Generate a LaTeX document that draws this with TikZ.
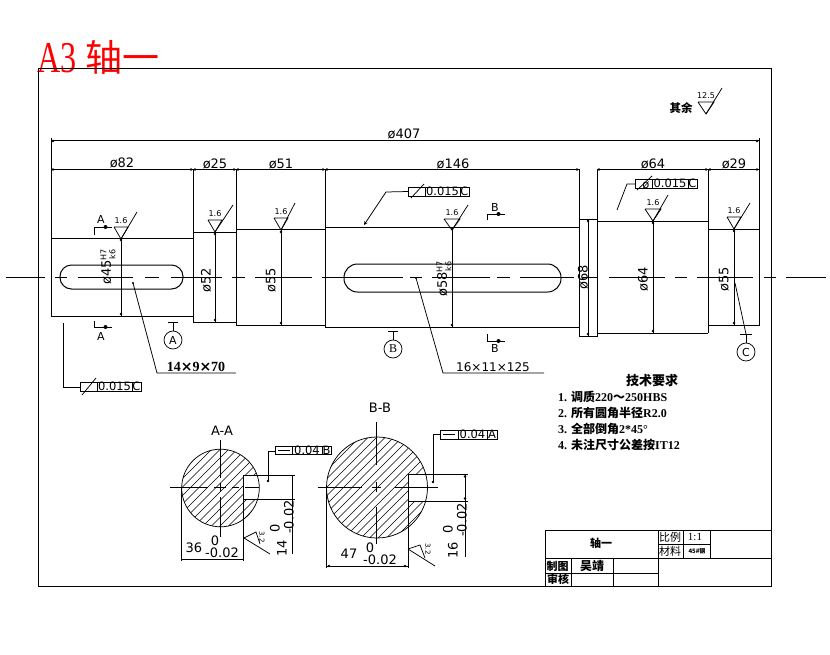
\documentclass[tikz,border=0pt]{standalone}
\usepackage{fontspec}
\setmainfont{Liberation Serif}
\newfontfamily\cjk{Noto Sans CJK SC}
\newfontfamily\djv{DejaVu Sans}
\newcommand{\zh}[1]{{\cjk #1}}
\newcommand{\fsz}[1]{\fontsize{#1}{#1}\selectfont}
\newcommand{\fitfrac}{\raisebox{-0.35em}{\shortstack{\fsz{8}H7\\\fsz{8}k6}}}
\tikzset{
  line/.style={draw=black,line width=1pt},
  thin line/.style={draw=black,line width=0.75pt},
  dim/.style={inner sep=0pt,font=\djv\fsz{13}},
  vdimtext/.style={inner sep=0pt,font=\djv\fsz{13},rotate=90},
  small/.style={inner sep=0pt,font=\djv\fsz{8}},
  req/.style={inner sep=0pt,anchor=west,font=\bfseries\fsz{12}},
  cell/.style={inner sep=0pt,font=\djv\fsz{11.5}},
  dot/.style={fill=black,draw=none},
}
% roughness symbol: apex x,y; tail x,y; half width; height; name (label from \<name>text)
\newcommand{\rough}[7]{%
  \draw[thin line] (#1-#5,#2-#6) -- (#1+#5,#2-#6) -- (#1,#2) -- (#1-#5,#2-#6);
  \draw[thin line] (#1,#2) -- (#3,#4);
  \node[small] (#7) at (#1,#2-#6-6) {\csname #7text\endcsname};}
\newcommand{\vd}[3]{%
  \draw[line] (#1,#2) -- (#1,#3);
  \fill[dot] (#1,#2+2) circle (1.4);
  \fill[dot] (#1,#3-2) circle (1.4);}
% tolerance frame: x0 y0 x3 y1 ; x1 x2 ; value ; datum ; name
\newcommand{\tol}[9]{%
  \draw[line] (#1,#2) rectangle (#3,#4);
  \draw[line] (#5,#2) -- (#5,#4);
  \draw[line] (#6,#2) -- (#6,#4);
  \node[cell] (#9v) at ({(#5+#6)/2},{(#2+#4)/2}) {#7};
  \node[cell] (#9d) at ({(#6+#3)/2},{(#2+#4)/2}) {#8};}
\begin{document}
\begin{tikzpicture}[x=1pt,y=-1pt]
\useasboundingbox (0,0) rectangle (830,654);
\fill[white] (0,0) rectangle (830,654);
% title
\node[inner sep=0pt,anchor=west,text=red,font=\fsz{44},xscale=0.73] (t1) at (37,58) {A3};
\node[inner sep=0pt,anchor=west,text=red,font=\cjk\fsz{37}] (t2) at (85,57) {轴一};
% frame
\draw[line] (38,68) rectangle (771,586);
% centre line
\foreach \a/\b in {6/45,55/67,78/133,145/159,171/222,232/245,255/312,322/403,410/422,432/490,497/510,520/574,582/598,609/665,675/687,697/753,764/776,786/826}
  \draw[thin line] (\a,277) -- (\b,277);
% overall dims
\draw[line] (51,140) -- (759,140);
\draw[line] (51,169.5) -- (193,169.5) (193,169.5) -- (236,169.5) (236,169.5) -- (325,169.5) (325,169.5) -- (579,169.5);
\draw[line] (597,169.5) -- (708,169.5) -- (759,169.5);
\foreach \p in {53,191,195,234,238,323,327,577,599,706,710,757}
  \fill[dot] (\p,169.5) circle (1.3);
\fill[dot] (53,141) circle (1.3);
\fill[dot] (757,141) circle (1.3);
\node[dim] (d407) at (404,134) {ø407};
\node[dim] (d82) at (122,163) {ø82};
\node[dim] (d25) at (215,164) {ø25};
\node[dim] (d51) at (281,164) {ø51};
\node[dim] (d146) at (453,164) {ø146};
\node[dim] (d64) at (653,164) {ø64};
\node[dim] (d29) at (734,164) {ø29};
% shaft
\draw[line] (51,138) -- (51,316) -- (193,316);
\draw[line] (51,238) -- (193,238);
\draw[line] (193,169) -- (193,322) -- (236,322);
\draw[line] (193,232) -- (236,232);
\draw[line] (236,169) -- (236,325) -- (325,325);
\draw[line] (236,229) -- (325,229);
\draw[line] (325,169) -- (325,327) -- (579,327);
\draw[line] (325,227) -- (579,227);
\draw[line] (579,169) -- (579,336) -- (597,336) -- (597,169);
\draw[line] (579,219) -- (597,219);
\draw[line] (597,221) -- (708,221);
\draw[line] (597,333) -- (708,333);
\draw[line] (708,169) -- (708,333);
\draw[line] (708,229) -- (759,229);
\draw[line] (708,325) -- (759,325) -- (759,138);
% keyways
\draw[line,rounded corners=11.5pt] (60,265) rectangle (183,289);
\draw[line,rounded corners=13.5pt] (344,264) rectangle (561,292);
% diameters
\vd{121}{238}{316}\vd{215}{232}{322}\vd{281}{230}{325}\vd{452}{227}{327}\vd{588}{219}{336}\vd{653}{221}{333}\vd{734}{229}{325}
\node[vdimtext] (v45) at (108,267) {ø45\fitfrac};
\node[vdimtext] (v52) at (206,280) {ø52};
\node[vdimtext] (v55) at (271,280) {ø55};
\node[vdimtext] (v58) at (444,279) {ø58\fitfrac};
\node[vdimtext] (v68) at (583,277) {ø68};
\node[vdimtext] (v64) at (643,279) {ø64};
\node[vdimtext] (v55b) at (724,279) {ø55};
% roughness
\def\Ratext{1.6}\def\Rbtext{1.6}\def\Rctext{1.6}\def\Rdtext{1.6}\def\Retext{1.6}\def\Rftext{1.6}\def\Rgtext{12.5}
\rough{121}{239}{137}{212}{7}{12}{Ra}
\rough{215}{232}{233}{205}{7}{12}{Rb}
\rough{281}{230}{295}{203}{7}{12}{Rc}
\rough{452}{230}{468}{205}{8}{11}{Rd}
\rough{653}{221}{668}{195}{8}{12}{Re}
\rough{734}{229}{750}{203}{7}{12}{Rf}
\rough{706}{114}{722}{88}{8}{12}{Rg}
\node[inner sep=0pt,font=\cjk\bfseries\fsz{11.5}] (qy) at (681,108) {其余};
% section marks
\draw[line] (94,235) -- (94,227) -- (112,227); \fill[dot] (105.5,227) circle (2);
\draw[line] (94,321) -- (94,327) -- (112,327); \fill[dot] (105.5,327) circle (2);
\node[dim,font=\djv\fsz{11}] (sa1) at (101,219) {A};
\node[dim,font=\djv\fsz{11}] (sa2) at (101,336) {A};
\draw[line] (487,220) -- (487,214) -- (505,214); \fill[dot] (498.5,214) circle (2);
\draw[line] (487,334) -- (487,341) -- (505,341); \fill[dot] (498.5,341) circle (2);
\node[dim,font=\djv\fsz{11}] (sb1) at (495,207) {B};
\node[dim,font=\djv\fsz{11}] (sb2) at (495,348) {B};
% datums
\node[circle,thin line,minimum size=18pt,inner sep=0pt,font=\djv\fsz{11}] (DA) at (173,340) {A};
\draw[thin line] (168,322) -- (178,322) (173,322) -- (DA.north);
\node[circle,thin line,minimum size=18pt,inner sep=0pt,font=\fsz{12}] (DB) at (393,349) {B};
\draw[thin line] (388,331) -- (398,331) (393,331) -- (DB.north);
\node[circle,thin line,minimum size=18pt,inner sep=0pt,font=\djv\fsz{11}] (DC) at (746,352) {C};
\draw[thin line] (740,334) -- (752,334) (746,334) -- (DC.north);
\draw[thin line] (735,283) -- (746,334);
% key leaders
\draw[thin line] (133,283) -- (157,373) -- (236,373);
\fill[dot] (133,283) circle (1.2);
\node[inner sep=0pt,font=\bfseries\fsz{14}] (k1) at (196,367) {14{\djv ×}9{\djv ×}70};
\draw[thin line] (416,278) -- (443,373) -- (544,373);
\fill[dot] (416,278) circle (1.2);
\node[inner sep=0pt,font=\djv\fsz{12}] (k2) at (493,367) {16×11×125};
% tolerance frames
\tol{80}{382}{141}{391}{97}{132}{0.015}{C}{ta}
\draw[thin line] (82,395) -- (96,378);
\draw[thin line] (63,323) -- (63,387) -- (80,387);
\tol{408}{187}{469}{196}{425}{460}{0.015}{C}{tb}
\draw[thin line] (411,198) -- (424,184);
\draw[thin line,-stealth] (408,191.5) -- (386,192) -- (364,225);
\tol{635}{179}{697}{188}{652}{688}{0.015}{C}{tc}
\draw[thin line] (637,190) -- (652,176);
\draw[thin line] (637,188) -- (652,188);
\node[cell] (tcd) at (646,185) {ø};
\draw[thin line] (635,184) -- (627,184) -- (617,210);
% A-A
\begin{scope}
\clip (220.5,488) circle (38.8);
\foreach \d in {-90,-81.5,...,90}
  \draw[line width=0.5pt] (220.5+\d-60,488+60) -- (220.5+\d+60,488-60);
\fill[white] (243.7,475) rectangle (262,499);
\end{scope}
\draw[thin line] (220.5,488) circle (38.8);
\draw[line] (170,487.5) -- (208,487.5) (214,487.5) -- (226,487.5) (232,487.5) -- (239,487.5) (245,487.5) -- (259,487.5);
\draw[line] (220,440) -- (220,478) (220,483) -- (220,492) (220,497) -- (220,537);
\draw[line] (295,475) -- (243.7,475) -- (243.7,561);
\draw[line] (243.7,499) -- (295,499);
\draw[line] (292,475) -- (292,554);
\draw[line] (181.7,488) -- (181.7,561);
\draw[line] (181.7,559) -- (243.7,559);
\node[dim] (aat) at (222,431) {A-A};
\node[dim] (a36) at (194,548) {36};
\node[dim] (a0) at (215,541) {0};
\node[dim] (a02) at (222,553) {-0.02};
\node[vdimtext] (a14) at (282,548) {14};
\node[vdimtext] (a0b) at (275,528) {0};
\node[vdimtext] (a02b) at (289,517) {-0.02};
\draw[thin line] (244,538) -- (256,532) -- (260,544);
\draw[thin line] (244,538) -- (270,554);
\node[inner sep=0pt,rotate=-90,font=\djv\fsz{7}] (a32) at (262,537) {3.2};
\tol{275}{446.5}{331}{454.5}{292}{322}{0.04}{B}{td}
\draw[line] (278,450.5) -- (290,450.5);
\draw[line] (268,481) -- (268,451) -- (275,451);
\fill[dot] (268,481) circle (1.4);
% B-B
\begin{scope}
\clip (377,487.5) circle (50.5);
\foreach \d in {-110,-101.5,...,110}
  \draw[line width=0.5pt] (377+\d-70,487.5+70) -- (377+\d+70,487.5-70);
\fill[white] (408,474) rectangle (430,501);
\end{scope}
\draw[thin line] (377,487.5) circle (50.5);
\draw[line] (318,487) -- (362,487) (372,487) -- (381,487) (395,487) -- (438,487);
\draw[line] (376.7,422) -- (376.7,465) (376.7,482) -- (376.7,492) (376.7,507) -- (376.7,544);
\draw[line] (468,474) -- (408,474) -- (408,568);
\draw[line] (408,501) -- (468,501);
\draw[line] (465,474) -- (465,557);
\fill[dot] (465,476.5) circle (1.4);
\fill[dot] (465,498.5) circle (1.4);
\draw[line] (326,487) -- (326,568);
\draw[line] (326,566) -- (408,566);
\fill[dot] (329,566) circle (1.3);
\fill[dot] (405,566) circle (1.3);
\node[dim] (bbt) at (380,408) {B-B};
\node[dim] (b47) at (349,554) {47};
\node[dim] (b0) at (370,548) {0};
\node[dim] (b02) at (380,560) {-0.02};
\node[vdimtext] (b16) at (453,550) {16};
\node[vdimtext] (b0b) at (448,529) {0};
\node[vdimtext] (b02b) at (462,520) {-0.02};
\draw[thin line] (408,549) -- (420,545) -- (425,558);
\draw[thin line] (408,549) -- (435,566);
\node[inner sep=0pt,rotate=-90,font=\djv\fsz{7}] (b32) at (428,549) {3.2};
\tol{440}{430}{497}{439}{458}{487}{0.04}{A}{te}
\draw[line] (443,434.5) -- (455,434.5);
\draw[line] (433,482) -- (433,434) -- (440,434);
\fill[dot] (433,482) circle (1.4);
% technical requirements
\node[inner sep=0pt,font=\cjk\bfseries\fsz{13}] (req0) at (652,381) {技术要求};
\node[req] (req1) at (558,397) {1. \zh{调质}220\zh{～}250HBS};
\node[req] (req2) at (558,413) {2. \zh{所有圆角半径}R2.0};
\node[req] (req3) at (558,429) {3. \zh{全部倒角}2*45°};
\node[req] (req4) at (558,445) {4. \zh{未注尺寸公差按}IT12};
% title block
\draw[line] (545,586) -- (545,530) -- (771,530);
\draw[line] (545,558) -- (771,558);
\draw[line] (545,573) -- (658,573);
\draw[line] (658,544) -- (710,544);
\draw[line] (658,530) -- (658,586);
\draw[line] (683,530) -- (683,558);
\draw[line] (710,530) -- (710,558);
\draw[line] (571,558) -- (571,586);
\draw[line] (613,558) -- (613,586);
\node[inner sep=0pt,font=\cjk\bfseries\fsz{11}] (b1) at (601,543) {轴一};
\node[inner sep=0pt,font=\cjk\fsz{11}] (b2) at (670,537) {比例};
\node[inner sep=0pt,font=\fsz{11}] (b3) at (695,537) {1:1};
\node[inner sep=0pt,font=\cjk\fsz{11}] (b4) at (670,551) {材料};
\node[inner sep=0pt,font=\cjk\bfseries\fsz{6}] (b5) at (697,551) {45\#钢};
\node[inner sep=0pt,font=\cjk\bfseries\fsz{11}] (b6) at (557.5,566) {制图};
\node[inner sep=0pt,font=\cjk\bfseries\fsz{12}] (b7) at (592,566) {吴靖};
\node[inner sep=0pt,font=\cjk\bfseries\fsz{11}] (b8) at (558,579.5) {审核};
\end{tikzpicture}
\end{document}
